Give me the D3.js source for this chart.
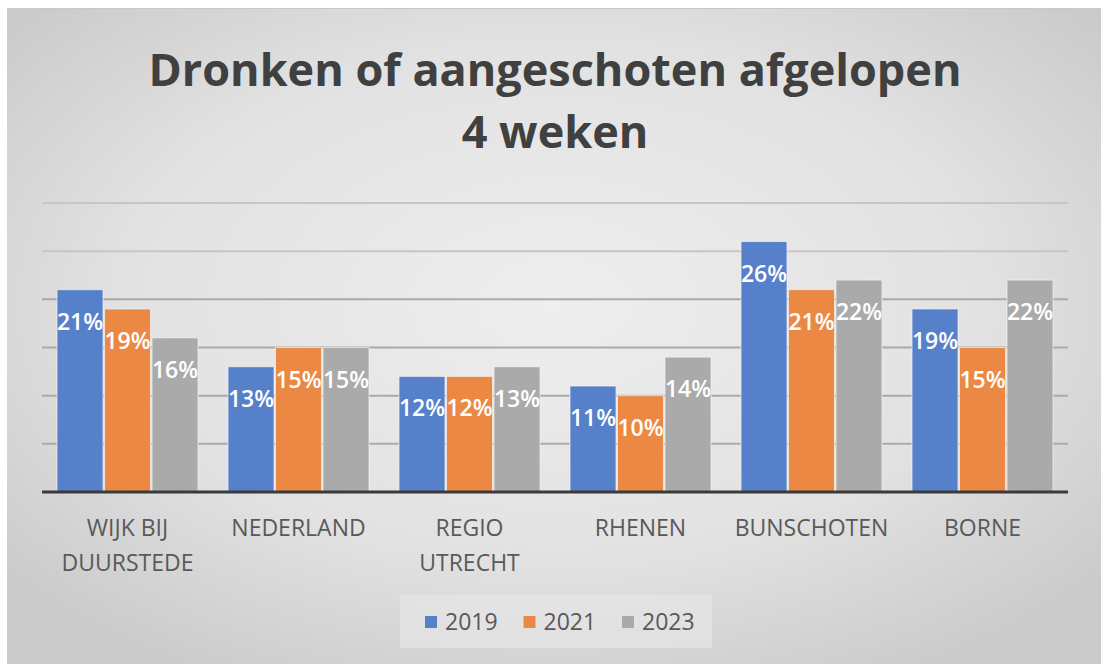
<!DOCTYPE html>
<html>
<head>
<meta charset="utf-8">
<script src="https://cdn.jsdelivr.net/npm/d3@7"></script>
<style>
  body { margin: 0; background: #ffffff; }
  svg { display: block; }
</style>
</head>
<body>
<svg id="chart" width="1101" height="664"></svg>
<script>
// chart data
var categories = ["WIJK BIJ DUURSTEDE", "NEDERLAND", "REGIO UTRECHT", "RHENEN", "BUNSCHOTEN", "BORNE"];
var categoryLines = [["WIJK BIJ", "DUURSTEDE"], ["NEDERLAND"], ["REGIO", "UTRECHT"], ["RHENEN"], ["BUNSCHOTEN"], ["BORNE"]];
var years = ["2019", "2021", "2023"];
var values2019 = [21, 13, 12, 11, 26, 19];
var values2021 = [19, 15, 12, 10, 21, 15];
var values2023 = [16, 15, 13, 14, 22, 22];
var yTicks = [0, 5, 10, 15, 20, 25, 30];
var titleLines = ["Dronken of aangeschoten afgelopen", "4 weken"];

var colors = {"2019": "#5680c9", "2021": "#eb8944", "2023": "#aaaaaa"};
var seriesValues = {"2019": values2019, "2021": values2021, "2023": values2023};

var svg = d3.select("#chart");
var font = "'Open Sans', 'Noto Sans', sans-serif";

// background: white strip top/left, then a grey radial gradient card
var defs = svg.append("defs");
var grad = defs.append("radialGradient")
    .attr("id", "bg")
    .attr("cx", "50%").attr("cy", "45%").attr("r", "65%");
grad.append("stop").attr("offset", "0%").attr("stop-color", "#eeeeee");
grad.append("stop").attr("offset", "60%").attr("stop-color", "#e2e2e2");
grad.append("stop").attr("offset", "100%").attr("stop-color", "#cbcbcb");

svg.append("rect")
    .attr("x", 7).attr("y", 8)
    .attr("width", 1094).attr("height", 656)
    .attr("fill", "url(#bg)");
svg.append("line")
    .attr("x1", 7).attr("x2", 1101).attr("y1", 8.5).attr("y2", 8.5)
    .attr("stroke", "#c8c8c8").attr("stroke-width", 1);

// title
svg.append("text")
    .attr("x", 555).attr("y", 86)
    .attr("text-anchor", "middle")
    .attr("font-family", font).attr("font-weight", 700)
    .attr("font-size", 45).attr("fill", "#404040")
    .selectAll("tspan")
    .data(titleLines)
    .enter().append("tspan")
      .attr("x", 555)
      .attr("dy", function(d, i) { return i === 0 ? 0 : 62; })
      .text(function(d) { return d; });

// scales
var x0 = d3.scaleBand()
    .domain(categories)
    .range([42, 1068])
    .padding(0);
var x1 = d3.scaleBand()
    .domain(years)
    .range([0, x0.bandwidth()])
    .paddingInner(0.032)
    .paddingOuter(0.316);
var y = d3.scaleLinear()
    .domain([0, 30])
    .range([492, 203]);

// gridlines
svg.append("g")
    .selectAll("line")
    .data(yTicks.slice(1))
    .enter().append("line")
      .attr("x1", 42).attr("x2", 1068)
      .attr("y1", function(d) { return y(d); })
      .attr("y2", function(d) { return y(d); })
      .attr("stroke", function(d) { return d >= 25 ? "#c6c6c6" : "#aaaaaa"; })
      .attr("stroke-width", 2);

// bars
var groups = svg.append("g")
    .selectAll("g")
    .data(categories)
    .enter().append("g")
      .attr("transform", function(d) { return "translate(" + x0(d) + ",0)"; });

var bars = groups.selectAll("rect")
    .data(function(d, i) {
        return years.map(function(yr) { return {year: yr, value: seriesValues[yr][i]}; });
    })
    .enter();

bars.append("rect")
    .attr("x", function(d) { return x1(d.year); })
    .attr("y", function(d) { return y(d.value); })
    .attr("width", x1.bandwidth())
    .attr("height", function(d) { return y(0) - y(d.value); })
    .attr("fill", function(d) { return colors[d.year]; })
    .attr("stroke", "#f4f4f4")
    .attr("stroke-opacity", 0.7)
    .attr("stroke-width", 1);

// data labels, inside end
bars.append("text")
    .attr("x", function(d) { return x1(d.year) + x1.bandwidth() / 2; })
    .attr("y", function(d) { return y(d.value) + 32; })
    .attr("dy", "0.35em")
    .attr("text-anchor", "middle")
    .attr("font-family", font).attr("font-weight", 600)
    .attr("font-size", 23).attr("fill", "#ffffff")
    .text(function(d) { return d.value + "%"; });

// baseline
svg.append("line")
    .attr("x1", 42).attr("x2", 1068)
    .attr("y1", y(0)).attr("y2", y(0))
    .attr("stroke", "#3a3a3a").attr("stroke-width", 3);

// category labels
var xLabels = svg.append("g")
    .selectAll("text")
    .data(categories)
    .enter().append("text")
      .attr("text-anchor", "middle")
      .attr("font-family", font)
      .attr("font-size", 23).attr("fill", "#595959");
xLabels.selectAll("tspan")
    .data(function(d, i) { return categoryLines[i].map(function(l) { return {cat: d, line: l}; }); })
    .enter().append("tspan")
      .attr("x", function(d) { return x0(d.cat) + x0.bandwidth() / 2; })
      .attr("y", function(d, i) { return 536 + i * 35; })
      .text(function(d) { return d.line; });

// legend
var legend = svg.append("g");
legend.append("rect")
    .attr("x", 400).attr("y", 595)
    .attr("width", 312).attr("height", 53)
    .attr("fill", "#e8e8e8").attr("fill-opacity", 0.6);
var legendX = d3.scalePoint()
    .domain(years)
    .range([425, 622]);
var items = legend.selectAll("g.item")
    .data(years)
    .enter().append("g")
      .attr("class", "item")
      .attr("transform", function(d) { return "translate(" + legendX(d) + ",622)"; });
items.append("rect")
    .attr("x", 0).attr("y", -6)
    .attr("width", 12).attr("height", 12)
    .attr("fill", function(d) { return colors[d]; });
items.append("text")
    .attr("x", 20).attr("dy", "0.36em")
    .attr("font-family", font)
    .attr("font-size", 23).attr("fill", "#595959")
    .text(function(d) { return d; });
</script>
</body>
</html>
